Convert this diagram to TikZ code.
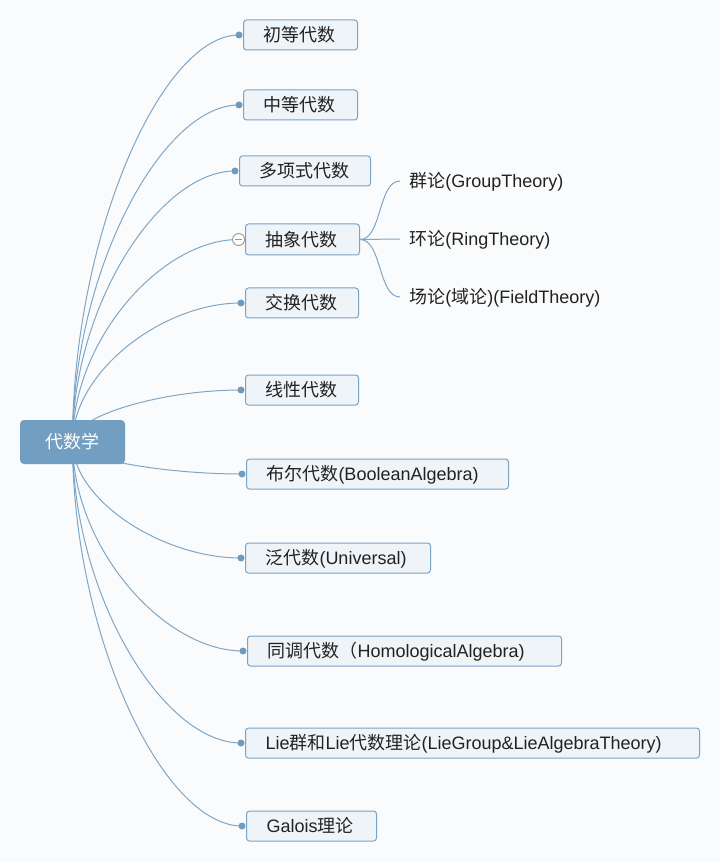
\documentclass[tikz,border=0pt]{standalone}
\usepackage{fontspec}
\setmainfont{Liberation Sans}
\newfontfamily\cjk{Noto Sans CJK SC}
\usetikzlibrary{calc}
\definecolor{linec}{HTML}{7FA6C6}
\definecolor{boxborder}{HTML}{7BA3C4}
\definecolor{boxfill}{HTML}{EFF4F8}
\definecolor{rootfill}{HTML}{729FC1}
\definecolor{dotc}{HTML}{6E9BC0}
\definecolor{pagebg}{HTML}{FAFBFC}
\definecolor{textc}{HTML}{222222}
\pgfdeclarelayer{bg}
\pgfsetlayers{bg,main}
\tikzset{
  topic/.style={draw=boxborder, fill=boxfill, line width=0.75pt, rounded corners=2.25pt,
    minimum height=22.5pt, inner xsep=15pt, inner ysep=0pt, anchor=west, align=left,
    text height=11.5pt, text depth=1.5pt,
    font=\fontsize{13.5pt}{16pt}\selectfont, text=textc},
  bw/.style={text width=#1*0.75pt-30pt},
  rootbox/.style={fill=rootfill, rounded corners=3pt, minimum width=78.75pt, minimum height=33pt,
    inner sep=0pt, text=white, text height=11pt, text depth=2pt, font=\fontsize{13.5pt}{16pt}\selectfont},
  dotnode/.style={circle, fill=dotc, minimum size=5.25pt, inner sep=0pt},
  collapse/.style={circle, draw=gray!80, fill=white, line width=0.7pt, minimum size=9pt, inner sep=0pt,
    path picture={\draw[gray!80, line width=0.7pt] ([xshift=-2.6pt]path picture bounding box.center) -- ([xshift=2.6pt]path picture bounding box.center);}},
  conn/.style={draw=linec, line width=0.75pt},
  subtopic/.style={anchor=west, inner xsep=6.75pt, inner ysep=0pt, text=textc,
    text height=11.5pt, text depth=1.5pt,
    font=\fontsize{13.5pt}{16pt}\selectfont}
}
\begin{document}
\begin{tikzpicture}[x=0.75pt,y=-0.75pt]
\begin{pgfonlayer}{bg}
\fill[pagebg] (0,0) rectangle (720,862);
\end{pgfonlayer}
\useasboundingbox (0,0) rectangle (720,862);

\node[rootbox] (root) at (72.5,442) {{\cjk 代数学}};

\node[topic, bw=114] (n1) at (243,35) {{\cjk 初等代数}};
\node[topic, bw=114] (n2) at (243,105) {{\cjk 中等代数}};
\node[topic, bw=131] (n3) at (239,171) {{\cjk 多项式代数}};
\node[topic, bw=114, minimum height=23.25pt] (n4) at (245,239.5) {{\cjk 抽象代数}};
\node[topic, bw=113] (n5) at (245,303) {{\cjk 交换代数}};
\node[topic, bw=113] (n6) at (245,390) {{\cjk 线性代数}};
\node[topic, bw=262] (n7) at (246,474) {{\cjk 布尔代数}(BooleanAlgebra)};
\node[topic, bw=185] (n8) at (245,558) {{\cjk 泛代数}(Universal)};
\node[topic, bw=314] (n9) at (247,651) {{\cjk 同调代数（}HomologicalAlgebra)};
\node[topic, bw=454] (n10) at (245,743) {Lie{\cjk 群和}Lie{\cjk 代数理论}(LieGroup\&LieAlgebraTheory)};
\node[topic, bw=130] (n11) at (246,826) {Galois{\cjk 理论}};

\node[dotnode] (d1) at ([xshift=-3pt]n1.west) {};
\node[dotnode] (d2) at ([xshift=-3pt]n2.west) {};
\node[dotnode] (d3) at ([xshift=-3pt]n3.west) {};
\node[collapse] (c4) at ([xshift=-4.8pt]n4.west) {};
\node[dotnode] (d5) at ([xshift=-3pt]n5.west) {};
\node[dotnode] (d6) at ([xshift=-3pt]n6.west) {};
\node[dotnode] (d7) at ([xshift=-3pt]n7.west) {};
\node[dotnode] (d8) at ([xshift=-3pt]n8.west) {};
\node[dotnode] (d9) at ([xshift=-3pt]n9.west) {};
\node[dotnode] (d10) at ([xshift=-3pt]n10.west) {};
\node[dotnode] (d11) at ([xshift=-3pt]n11.west) {};

\node[subtopic] (g1) at (400,181) {{\cjk 群论}(GroupTheory)};
\node[subtopic] (g2) at (400,239) {{\cjk 环论}(RingTheory)};
\node[subtopic] (g3) at (400,297) {{\cjk 场论}({\cjk 域论})(FieldTheory)};

\begin{pgfonlayer}{bg}
\foreach \d in {d1,d2,d3,c4,d5,d6,d7,d8,d9,d10,d11}{
  \draw[conn] (root.center) .. controls ($(root.center)!0.5!(root.center|-\d.center)$)
    and ($(root.center|-\d.center)!0.53!(\d.center)$) .. (\d.center);
}
\draw[conn] (n4.east) .. controls +(22,0) and +(-22,0) .. (g1.west);
\draw[conn] (n4.east) -- (g2.west);
\draw[conn] (n4.east) .. controls +(22,0) and +(-22,0) .. (g3.west);
\end{pgfonlayer}
\end{tikzpicture}
\end{document}
